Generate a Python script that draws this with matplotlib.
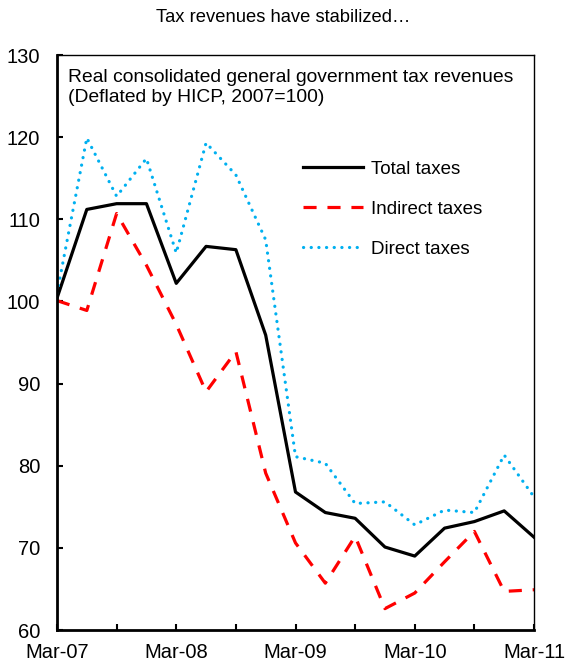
import numpy as np
import matplotlib
matplotlib.use('Agg')
import matplotlib.pyplot as plt
plt.rcParams['font.family'] = ['Liberation Sans', 'DejaVu Sans']

# quarterly, Mar-07 .. Mar-11
quarters = np.arange(17)
total_taxes = [100.4, 111.2, 111.9, 111.9, 102.2, 106.7, 106.3, 95.9, 76.8,
               74.3, 73.6, 70.1, 69.0, 72.4, 73.2, 74.5, 71.3]
indirect_taxes = [100.1, 98.9, 110.7, 104.4, 97.2, 89.0, 93.9, 79.1, 70.6,
                  65.7, 71.4, 62.6, 64.5, 68.3, 72.0, 64.7, 64.9]
direct_taxes = [101.0, 119.9, 112.8, 117.4, 105.9, 119.3, 115.4, 107.5, 81.1,
                80.3, 75.4, 75.6, 72.8, 74.6, 74.3, 81.3, 76.2]
year_labels = ['Mar-07', 'Mar-08', 'Mar-09', 'Mar-10', 'Mar-11']

fig = plt.figure(figsize=(5.67, 6.67), dpi=100)
ax = fig.add_axes([57/567, 37/667, 477/567, 575/667])

ax.plot(quarters, total_taxes, color='black', lw=2.3, label='Total taxes')
ax.plot(quarters, indirect_taxes, color='#FF0000', lw=2.3, dashes=(4.1, 3.4),
        label='Indirect taxes')
ax.plot(quarters, direct_taxes, color='#00B0F0', lw=2.3, dashes=(0.05, 2.35),
        dash_capstyle='round', label='Direct taxes')

ax.set_xlim(0, 16)
ax.set_ylim(60, 130)
ax.set_yticks(np.arange(60, 131, 10))
ax.set_xticks(np.arange(0, 17, 2))
ax.set_xticklabels([year_labels[i // 4] if i % 4 == 0 else '' for i in range(0, 17, 2)])
ax.tick_params(axis='both', direction='in', length=4, width=1.5, labelsize=14.5)
ax.tick_params(axis='y', pad=12)
ax.tick_params(axis='x', pad=9)

for s in ['left', 'bottom']:
    ax.spines[s].set_linewidth(2)
for s in ['top', 'right']:
    ax.spines[s].set_linewidth(1)

ax.text(0.023, 0.975, 'Real consolidated general government tax revenues\n(Deflated by HICP, 2007=100)',
        transform=ax.transAxes, va='top', ha='left', fontsize=13.9, linespacing=1.22)

ax.legend(loc='upper left', bbox_to_anchor=(0.515, 0.816), frameon=False,
          fontsize=13.5, handlelength=3.2, labelspacing=1.21, handletextpad=0.45,
          borderaxespad=0, borderpad=0)

fig.text(0.5, 1 - 18/667, 'Tax revenues have stabilized…', ha='center', va='center',
         fontsize=13.2)

fig.savefig('out.png', dpi=100)
